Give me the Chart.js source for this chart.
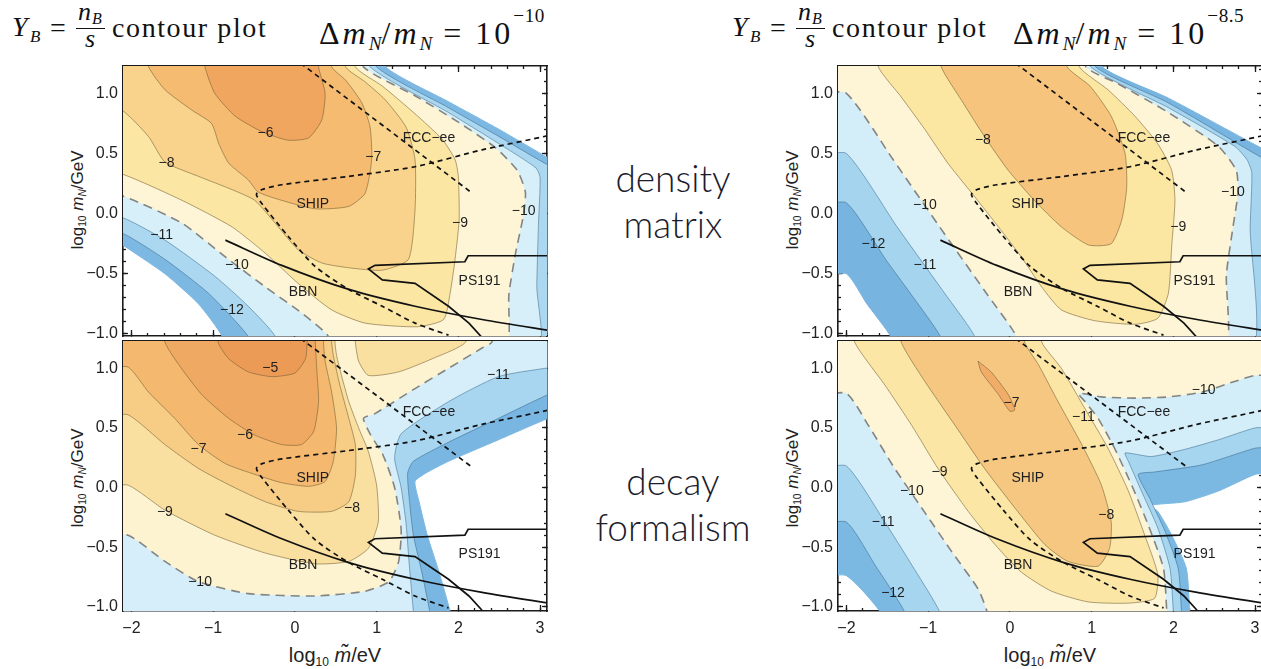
<!DOCTYPE html>
<html>
<head>
<meta charset="utf-8">
<script src="https://cdn.jsdelivr.net/npm/chart.js@4.4.1/dist/chart.umd.min.js"></script>
<style>
  html, body { margin: 0; padding: 0; background: #fff; }
  body { width: 1261px; height: 669px; overflow: hidden; position: relative; }
  canvas { position: absolute; }
  .t { position: absolute; white-space: nowrap; line-height: 1; color: #111; }
  .serif { font-family: 'Liberation Serif', 'Times New Roman', serif; }
  .eq { font-size: 32px; letter-spacing: 3px; }
  .sans { font-family: 'Liberation Sans', Arial, sans-serif; color: #222; }
  .side { font-family: Lato, 'Open Sans', sans-serif; font-weight: 300; font-size: 37px; line-height: 46px; color: #1c1c2e; text-align: center; width: 220px; }
  .bar { position: absolute; height: 1.4px; background: #111; }
  .rot { transform: translate(-50%, -50%) rotate(-90deg); }
  .ctr { transform: translateX(-50%); }
  sub { font-size: 0.6em; vertical-align: -0.3em; line-height: 0; letter-spacing: 0; }
  sup { font-size: 0.6em; vertical-align: 1.15em; line-height: 0; letter-spacing: 0.5px; }
</style>
</head>
<body>

<!-- left title -->
<div class="t serif" style="left:12px;top:13px;font-size:28px"><i>Y</i></div>
<div class="t serif" style="left:30px;top:28px;font-size:17px"><i>B</i></div>
<div class="t serif" style="left:50px;top:14px;font-size:28px">=</div>
<div class="t serif" style="left:78px;top:-1px;font-size:26px"><i>n</i></div>
<div class="t serif" style="left:92px;top:11px;font-size:16px"><i>B</i></div>
<div class="bar" style="left:76px;top:28px;width:29px"></div>
<div class="t serif" style="left:85px;top:26px;font-size:26px"><i>s</i></div>
<div class="t serif" style="left:112px;top:14px;font-size:28px;letter-spacing:1.6px">contour plot</div>
<div class="t serif eq" style="left:319px;top:16px">Δ<i>m</i><sub><i>N</i></sub>/<i>m</i><sub><i>N</i></sub> = 10<sup>−10</sup></div>

<!-- right title -->
<div class="t serif" style="left:732px;top:13px;font-size:28px"><i>Y</i></div>
<div class="t serif" style="left:750px;top:28px;font-size:17px"><i>B</i></div>
<div class="t serif" style="left:770px;top:14px;font-size:28px">=</div>
<div class="t serif" style="left:798px;top:-1px;font-size:26px"><i>n</i></div>
<div class="t serif" style="left:812px;top:11px;font-size:16px"><i>B</i></div>
<div class="bar" style="left:796px;top:28px;width:29px"></div>
<div class="t serif" style="left:805px;top:26px;font-size:26px"><i>s</i></div>
<div class="t serif" style="left:832px;top:14px;font-size:28px;letter-spacing:1.6px">contour plot</div>
<div class="t serif eq" style="left:1013px;top:16px">Δ<i>m</i><sub><i>N</i></sub>/<i>m</i><sub><i>N</i></sub> = 10<sup>−8.5</sup></div>

<!-- middle captions -->
<div class="t side" style="left:563px;top:155px">density<br>matrix</div>
<div class="t side" style="left:563px;top:458px">decay<br>formalism</div>

<!-- axis titles -->
<div class="t sans rot" style="left:77px;top:200px;font-size:17px">log<sub>10</sub> <i>m</i><sub><i>N</i></sub>/GeV</div>
<div class="t sans rot" style="left:77px;top:478px;font-size:17px">log<sub>10</sub> <i>m</i><sub><i>N</i></sub>/GeV</div>
<div class="t sans rot" style="left:792px;top:200px;font-size:17px">log<sub>10</sub> <i>m</i><sub><i>N</i></sub>/GeV</div>
<div class="t sans rot" style="left:792px;top:478px;font-size:17px">log<sub>10</sub> <i>m</i><sub><i>N</i></sub>/GeV</div>
<div class="t sans ctr" style="left:335px;top:645px;font-size:20px">log<sub>10</sub> <i>m&#771;</i>/eV</div>
<div class="t sans ctr" style="left:1050px;top:645px;font-size:20px">log<sub>10</sub> <i>m&#771;</i>/eV</div>

<canvas id="c1" width="486" height="280" style="left:63px;top:64px"></canvas>
<canvas id="c2" width="486" height="302" style="left:63px;top:339px"></canvas>
<canvas id="c3" width="486" height="280" style="left:778px;top:64px"></canvas>
<canvas id="c4" width="486" height="302" style="left:778px;top:339px"></canvas>

<script>
// axis ranges (log10 m~/eV, log10 mN/GeV)
const xLo = -2.103, xHi = 3.085;
const yTop = [-1.017, 1.227];
const yBot = [-1.036, 1.229];

// experimental bounds, same in every panel
const fcc = [[0.07,1.25],[2.17,0.17]];
const ship = [[3.2,0.67],[3.11,0.65],[2.29,0.53],[1.47,0.39],[0.66,0.31],[-0.16,0.24],[-0.40,0.20],[-0.47,0.16],[-0.40,0.08],[-0.08,-0.19],[0.25,-0.44],[0.66,-0.63],[1.07,-0.77],[1.47,-0.91],[1.88,-1.01]];
const bbn = [[-0.85,-0.22],[-0.16,-0.43],[0.66,-0.63],[1.47,-0.77],[2.29,-0.88],[3.2,-0.98]];
const ps191 = [[3.2,-0.35],[2.12,-0.35],[2.08,-0.40],[0.98,-0.43],[0.90,-0.46],[1.07,-0.55],[1.47,-0.58],[1.88,-0.77],[2.13,-0.91],[2.29,-1.03]];
const names = [['SHIP',0.22,0.08],['FCC\u2212ee',1.64,0.63],['BBN',0.10,-0.65],['PS191',2.26,-0.56]];

// top left: density matrix, dm/m = 1e-10  (region where log10 Y_B > level)
const tl13 = [[-2.4,1.5],[-2.4,-0.26],[-2.12,-0.26],[-2.02,-0.30],[-1.59,-0.50],[-1.18,-0.75],[-0.89,-1.02],[-0.85,-1.2],[3.3,-1.2],[3.3,0.40],[3.11,0.46],[2.5,0.70],[1.88,0.93],[1.11,1.22],[1.03,1.5]];
const tl12 = [[-2.4,1.5],[-2.4,-0.16],[-2.12,-0.16],[-1.59,-0.38],[-1.06,-0.66],[-0.57,-1.02],[-0.5,-1.2],[3.3,-1.2],[3.3,0.36],[3.11,0.40],[2.5,0.64],[1.88,0.88],[1.0,1.22],[0.93,1.5]];
const tl11 = [[-2.4,1.5],[-2.4,-0.03],[-2.12,-0.03],[-1.59,-0.22],[-0.98,-0.52],[-0.57,-0.77],[-0.24,-1.02],[-0.2,-1.2],[2.96,-1.2],[2.96,-0.6],[2.98,-0.1],[3.0,0.30],[2.95,0.38],[2.5,0.58],[1.88,0.84],[0.92,1.22],[0.85,1.5]];
const tl10 = [[-2.4,1.5],[-2.4,0.15],[-2.12,0.15],[-1.38,-0.08],[-0.85,-0.36],[-0.36,-0.61],[0.09,-0.83],[0.41,-1.02],[0.45,-1.2],[2.55,-1.2],[2.62,-0.66],[2.70,-0.33],[2.80,0.0],[2.82,0.18],[2.72,0.36],[2.45,0.55],[2.0,0.76],[1.47,0.98],[0.84,1.22],[0.78,1.5]];
const tl9 = [[-2.4,1.5],[-2.4,0.33],[-2.12,0.33],[-1.38,0.11],[-0.77,-0.11],[-0.36,-0.33],[0.04,-0.58],[0.45,-0.80],[0.86,-0.91],[1.50,-0.94],[1.82,-0.88],[1.90,-0.66],[1.96,-0.38],[2.01,-0.05],[2.0,0.31],[1.96,0.45],[1.80,0.62],[1.47,0.83],[1.07,1.06],[0.74,1.22],[0.68,1.5]];
const tl8 = [[-2.4,1.5],[-2.4,0.86],[-2.12,0.86],[-1.79,0.64],[-1.59,0.43],[-1.18,0.31],[-0.77,0.20],[-0.49,0.11],[-0.24,-0.08],[0.04,-0.30],[0.33,-0.41],[0.66,-0.45],[1.07,-0.47],[1.39,-0.38],[1.47,0.03],[1.47,0.45],[1.36,0.72],[1.10,0.95],[0.85,1.10],[0.62,1.22],[0.57,1.5]];
const tl7 = [[-1.9,1.5],[-1.79,1.22],[-1.59,1.03],[-1.26,0.86],[-1.02,0.75],[-0.93,0.58],[-0.81,0.42],[-0.57,0.28],[-0.45,0.18],[-0.16,0.11],[0.25,0.04],[0.66,0.06],[0.86,0.17],[0.94,0.45],[0.92,0.72],[0.82,0.92],[0.62,1.11],[0.45,1.22],[0.40,1.5]];
const tl6 = [[-1.15,1.5],[-1.10,1.22],[-0.98,1.0],[-0.73,0.81],[-0.40,0.68],[-0.08,0.61],[0.17,0.63],[0.33,0.78],[0.37,1.0],[0.29,1.22],[0.27,1.5]];
const tlLab = [['\u22126',-0.36,0.67],['\u22127',0.96,0.47],['\u22128',-1.57,0.42],['\u22129',2.02,-0.08],['\u221210',2.80,0.02],['\u221210',-0.71,-0.43],['\u221211',-1.63,-0.18],['\u221212',-0.77,-0.80]];

// bottom left: decay formalism, dm/m = 1e-10
const bl13 = [[-2.4,1.5],[-2.4,-1.2],[1.95,-1.2],[1.90,-1.04],[1.76,-0.70],[1.62,-0.40],[1.52,-0.12],[1.47,0.05],[1.60,0.12],[1.88,0.22],[2.49,0.40],[3.10,0.58],[3.3,0.62],[3.3,1.5]];
const bl12 = [[-2.4,1.5],[-2.4,-1.2],[1.68,-1.2],[1.65,-1.04],[1.55,-0.70],[1.45,-0.40],[1.40,-0.10],[1.38,0.12],[1.45,0.22],[1.88,0.38],[2.49,0.58],[3.10,0.78],[3.3,0.82],[3.3,1.5]];
const bl11 = [[-2.4,1.5],[-2.4,-1.2],[1.47,-1.2],[1.45,-1.04],[1.40,-0.65],[1.36,-0.30],[1.30,0.0],[1.22,0.25],[1.30,0.45],[1.88,0.72],[2.49,0.93],[3.06,1.0],[3.3,1.02],[3.3,1.5]];
const bl10 = [[-2.4,1.5],[-2.4,-0.40],[-2.04,-0.40],[-1.59,-0.62],[-1.18,-0.79],[-0.57,-0.89],[0.25,-0.91],[0.86,-0.87],[1.15,-0.79],[1.27,-0.62],[1.30,-0.35],[1.22,0.0],[1.08,0.27],[0.92,0.45],[0.84,0.58],[0.98,0.62],[1.47,0.83],[1.88,1.0],[2.29,1.17],[2.41,1.22],[2.45,1.5]];
const bl9 = [[-2.4,1.5],[-2.4,0.02],[-2.04,0.02],[-1.59,-0.19],[-0.98,-0.40],[-0.36,-0.55],[0.25,-0.64],[0.66,-0.62],[0.90,-0.51],[1.02,-0.29],[1.0,0.02],[0.90,0.30],[0.78,0.50],[0.66,0.72],[0.57,0.94],[0.51,1.11],[0.49,1.22],[0.48,1.5]];
const bl9b = [[0.72,1.5],[0.74,1.22],[0.78,1.06],[0.90,0.94],[1.27,0.97],[1.68,1.08],[2.09,1.22],[2.12,1.5]];
const bl8 = [[-2.4,1.5],[-2.4,0.61],[-2.04,0.61],[-1.59,0.36],[-1.18,0.16],[-0.77,0.01],[-0.36,-0.12],[0.04,-0.20],[0.45,-0.20],[0.66,-0.12],[0.74,0.10],[0.74,0.36],[0.66,0.58],[0.55,0.86],[0.47,1.11],[0.45,1.22],[0.44,1.5]];
const bl7 = [[-2.4,1.5],[-2.4,1.02],[-2.04,1.01],[-1.79,0.80],[-1.47,0.58],[-1.18,0.36],[-0.85,0.20],[-0.49,0.11],[-0.16,0.04],[0.17,0.01],[0.37,0.05],[0.47,0.22],[0.51,0.50],[0.45,0.80],[0.37,1.06],[0.35,1.22],[0.34,1.5]];
const bl6 = [[-1.62,1.5],[-1.59,1.22],[-1.42,1.03],[-1.14,0.78],[-0.81,0.58],[-0.49,0.44],[-0.16,0.36],[0.08,0.36],[0.23,0.47],[0.29,0.72],[0.27,0.97],[0.25,1.22],[0.24,1.5]];
const bl5 = [[-0.96,1.5],[-0.94,1.22],[-0.81,1.08],[-0.57,0.97],[-0.28,0.93],[0.0,0.96],[0.13,1.08],[0.15,1.22],[0.16,1.5]];
const blLab = [['\u22125',-0.30,1.0],['\u22126',-0.61,0.44],['\u22127',-1.18,0.32],['\u22128',0.70,-0.17],['\u22129',-1.59,-0.21],['\u221210',-1.16,-0.79],['\u221211',2.49,0.94]];

// top right: density matrix, dm/m = 10^-8.5
const tr13 = [[-2.4,1.5],[-2.4,-0.50],[-2.0,-0.50],[-1.75,-0.75],[-1.46,-1.02],[-1.4,-1.2],[3.3,-1.2],[3.3,0.48],[3.12,0.53],[1.94,0.96],[1.13,1.22],[1.08,1.5]];
const tr12 = [[-2.4,1.5],[-2.4,0.09],[-2.0,0.09],[-1.51,-0.39],[-1.22,-0.66],[-0.85,-1.02],[-0.8,-1.2],[3.3,-1.2],[3.3,0.40],[3.12,0.45],[1.94,0.92],[1.05,1.22],[1.0,1.5]];
const tr11 = [[-2.4,1.5],[-2.4,0.5],[-2.0,0.5],[-1.38,-0.11],[-0.80,-0.66],[-0.43,-1.02],[-0.4,-1.2],[2.92,-1.2],[2.94,-0.11],[2.96,0.34],[2.90,0.45],[2.75,0.56],[1.94,0.88],[0.99,1.22],[0.94,1.5]];
const tr10 = [[-2.4,1.5],[-2.4,1.02],[-2.0,1.0],[-1.43,0.45],[-0.86,-0.11],[-0.29,-0.66],[0.08,-1.02],[0.1,-1.2],[2.6,-1.2],[2.65,-0.50],[2.73,-0.11],[2.79,0.17],[2.77,0.36],[2.55,0.56],[1.94,0.84],[1.32,1.08],[0.93,1.22],[0.88,1.5]];
const tr9 = [[-1.65,1.5],[-1.61,1.22],[-1.33,0.97],[-1.04,0.70],[-0.76,0.42],[-0.43,0.14],[-0.14,-0.11],[0.14,-0.36],[0.39,-0.61],[0.63,-0.80],[1.04,-0.89],[1.53,-0.92],[1.81,-0.87],[1.94,-0.66],[1.98,-0.27],[2.02,0.11],[1.98,0.36],[1.81,0.58],[1.53,0.81],[1.20,1.03],[0.85,1.22],[0.80,1.5]];
const tr8 = [[-0.88,1.5],[-0.84,1.22],[-0.59,0.94],[-0.31,0.64],[-0.02,0.36],[0.30,0.11],[0.63,-0.11],[0.96,-0.26],[1.24,-0.25],[1.37,-0.05],[1.43,0.22],[1.41,0.50],[1.24,0.81],[0.98,1.06],[0.70,1.22],[0.62,1.5]];
const trLab = [['\u22128',-0.33,0.61],['\u22129',2.06,-0.11],['\u221210',2.73,0.18],['\u221210',-1.04,0.07],['\u221211',-1.04,-0.43],['\u221212',-1.67,-0.25]];

// bottom right: decay formalism, dm/m = 10^-8.5
const br13 = [[-2.4,1.5],[-2.4,-0.72],[-2.0,-0.74],[-1.59,-1.04],[-1.55,-1.2],[2.22,-1.2],[2.20,-1.04],[2.16,-0.68],[1.98,-0.40],[1.81,-0.20],[1.71,-0.15],[2.14,-0.12],[2.55,-0.03],[3.0,0.11],[3.3,0.15],[3.3,1.5]];
const br12 = [[-2.4,1.5],[-2.4,-0.29],[-2.0,-0.29],[-1.65,-0.65],[-1.29,-1.04],[-1.25,-1.2],[2.12,-1.2],[2.10,-1.04],[2.06,-0.68],[1.90,-0.37],[1.71,-0.09],[1.57,0.11],[1.77,0.13],[2.35,0.19],[3.0,0.33],[3.3,0.36],[3.3,1.5]];
const br11 = [[-2.4,1.5],[-2.4,0.18],[-2.0,0.18],[-1.53,-0.29],[-1.20,-0.65],[-0.86,-1.04],[-0.83,-1.2],[2.02,-1.2],[2.0,-1.04],[1.96,-0.68],[1.81,-0.34],[1.61,-0.03],[1.45,0.22],[1.41,0.29],[1.73,0.26],[2.14,0.32],[2.55,0.40],[3.0,0.50],[3.3,0.52],[3.3,1.5]];
const br10 = [[-2.4,1.5],[-2.4,0.79],[-2.0,0.79],[-1.73,0.52],[-1.41,0.16],[-1.08,-0.17],[-0.71,-0.54],[-0.39,-0.85],[-0.28,-1.04],[-0.25,-1.2],[1.94,-1.2],[1.92,-1.04],[1.88,-0.68],[1.69,-0.31],[1.49,0.02],[1.28,0.33],[1.08,0.58],[0.92,0.72],[0.84,0.79],[1.12,0.76],[1.53,0.75],[1.94,0.76],[2.35,0.80],[2.75,0.89],[3.0,0.94],[3.3,0.96],[3.3,1.5]];
const br9 = [[-1.95,1.5],[-1.90,1.22],[-1.53,0.86],[-1.20,0.52],[-0.88,0.16],[-0.51,-0.20],[-0.18,-0.48],[0.14,-0.71],[0.51,-0.87],[0.96,-0.96],[1.45,-0.97],[1.77,-0.93],[1.81,-0.73],[1.65,-0.40],[1.45,-0.03],[1.20,0.33],[0.92,0.66],[0.63,1.0],[0.39,1.22],[0.36,1.5]];
const br8 = [[-1.36,1.5],[-1.33,1.22],[-1.04,0.89],[-0.67,0.52],[-0.31,0.16],[0.06,-0.17],[0.43,-0.48],[0.71,-0.62],[1.08,-0.66],[1.22,-0.51],[1.24,-0.29],[1.12,0.02],[0.88,0.36],[0.59,0.72],[0.35,1.03],[0.18,1.22],[0.15,1.5]];
const br7 = [[-0.39,1.06],[-0.23,0.97],[-0.02,0.78],[0.06,0.65],[0.0,0.64],[-0.14,0.78],[-0.35,0.97],[-0.39,1.06]];
const brLab = [['\u22127',0.02,0.71],['\u22128',1.18,-0.23],['\u22129',-0.86,0.13],['\u221210',-1.20,-0.03],['\u221210',2.37,0.82],['\u221211',-1.55,-0.29],['\u221211',0.90,0.59],['\u221212',-1.43,-0.89]];

// fill colours per level, one palette per panel
const tlCol = {'-13':'#7db8e2','-12':'#abd8f0','-11':'#d6eff9','-10':'#fdf5d6','-9':'#fbe6a3','-8':'#f9d38c','-7':'#f5bb70','-6':'#f0a65e'};
const blCol = {'-13':'#79b6e1','-12':'#a8d6f0','-11':'#d5eef9','-10':'#fdf3d0','-9':'#fae0a0','-8':'#f7cc85','-7':'#f4b96f','-6':'#f0a963','-5':'#ec9b56'};
const trCol = {'-13':'#78b4e0','-12':'#a5d4ef','-11':'#d4eef9','-10':'#fdf5d5','-9':'#fbe6a2','-8':'#f6c47c'};
const brCol = {'-13':'#7bb8e2','-12':'#a6d5ef','-11':'#d3eef9','-10':'#fdf5d6','-9':'#fbe6a6','-8':'#f6c781','-7':'#f1ad68'};

const panels = [
  {id:'c1', yr:yTop, showX:false, col:tlCol, lab:tlLab, layers:[[tl13,-13],[tl12,-12],[tl11,-11],[tl10,-10],[tl9,-9],[tl8,-8],[tl7,-7],[tl6,-6]]},
  {id:'c2', yr:yBot, showX:true, col:blCol, lab:blLab, layers:[[bl13,-13],[bl12,-12],[bl11,-11],[bl10,-10],[bl9,-9],[bl9b,-9],[bl8,-8],[bl7,-7],[bl6,-6],[bl5,-5]]},
  {id:'c3', yr:yTop, showX:false, col:trCol, lab:trLab, layers:[[tr13,-13],[tr12,-12],[tr11,-11],[tr10,-10],[tr9,-9],[tr8,-8]]},
  {id:'c4', yr:yBot, showX:true, col:brCol, lab:brLab, layers:[[br13,-13],[br12,-12],[br11,-11],[br10,-10],[br9,-9],[br8,-8],[br7,-7]]}
];

const toXY = pts => pts.map(p => ({x: p[0], y: p[1]}));

function contourSet(pts, color, level, order) {
  const obs = level === -10;
  return {
    data: toXY(pts),
    fill: 'shape',
    backgroundColor: color,
    borderColor: level === -13 ? color : obs ? 'rgba(120,120,120,0.9)' : level < -10 ? 'rgba(50,95,130,0.5)' : 'rgba(110,90,50,0.55)',
    borderWidth: obs ? 1.6 : 1,
    borderDash: obs ? [9, 6] : [],
    pointRadius: 0,
    tension: 0.2,
    capBezierPoints: false,
    order
  };
}

function boundLine(pts, dashed, tension) {
  return {
    data: toXY(pts), fill: false, borderColor: '#111', borderWidth: 1.7,
    borderDash: dashed ? [5, 4] : [], pointRadius: 0, tension, order: 0
  };
}

function textPlugin(items) {
  return {
    id: 'contourText',
    afterDatasetsDraw(chart) {
      const {ctx, chartArea: a} = chart;
      const sx = chart.scales.x, sy = chart.scales.y;
      ctx.save();
      ctx.beginPath(); ctx.rect(a.left, a.top, a.width, a.height); ctx.clip();
      ctx.textAlign = 'center'; ctx.textBaseline = 'middle'; ctx.fillStyle = '#1e1e1e';
      ctx.font = '14px "Liberation Sans", Arial, sans-serif';
      items.forEach(([t, vx, vy]) => ctx.fillText(t, sx.getPixelForValue(vx), sy.getPixelForValue(vy)));
      ctx.restore();
    }
  };
}

const fmtX = v => (v < 0 ? '\u2212' : '') + Math.abs(Math.round(v));
const fmtY = v => (v < -1e-9 ? '\u2212' : '') + Math.abs(v).toFixed(1);
const tickFont = {family: "'Liberation Sans', Arial, sans-serif", size: 16};

function axis(dir, pos, range, step, tl, weight, size, labels, border, fmt, pad) {
  return {
    type: 'linear', axis: dir, position: pos, weight, z: 1,
    min: range[0], max: range[1],
    grid: {drawOnChartArea: false, drawTicks: true, tickLength: tl, tickColor: '#1a1a1a', tickWidth: 1.3},
    border: {display: border, color: '#1a1a1a', width: 1.6},
    ticks: {stepSize: step, includeBounds: false, autoSkip: false, maxRotation: 0, minRotation: 0,
            display: labels, padding: pad || 0, font: tickFont, color: '#222', callback: fmt || (() => '')},
    afterFit(s) {
      if (dir === 'x') s.height = size; else s.width = size;
      s.paddingTop = 0; s.paddingBottom = 0; s.paddingLeft = 0; s.paddingRight = 0;
    }
  };
}

function makeScales(yr, showX) {
  const xr = [xLo, xHi];
  return {
    x:   axis('x', 'bottom', xr, 1, -6, 1, showX ? 30 : 0, showX, true, fmtX, 14),
    xm:  axis('x', 'bottom', xr, 0.2, -3, 0, 0, false, false),
    xt:  axis('x', 'top', xr, 1, -6, 1, 0, false, true),
    xtm: axis('x', 'top', xr, 0.2, -3, 0, 0, false, false),
    y:   axis('y', 'left', yr, 0.5, -5, 1, 60, true, true, fmtY, 10),
    ym:  axis('y', 'left', yr, 0.1, -3, 0, 0, false, false),
    yr:  axis('y', 'right', yr, 0.5, -5, 1, 0, false, true),
    yrm: axis('y', 'right', yr, 0.1, -3, 0, 0, false, false)
  };
}

panels.forEach(p => {
  const datasets = p.layers.map((l, i) => contourSet(l[0], p.col[String(l[1])], l[1], 50 - i));
  datasets.push(boundLine(fcc, true, 0), boundLine(ship, true, 0.25), boundLine(bbn, false, 0.3), boundLine(ps191, false, 0));
  new Chart(document.getElementById(p.id), {
    type: 'line',
    data: {datasets},
    options: {
      responsive: false,
      animation: false,
      events: [],
      layout: {padding: {top: 2, right: 2, bottom: p.showX ? 0 : 8, left: 0}},
      plugins: {legend: {display: false}, tooltip: {enabled: false}},
      scales: makeScales(p.yr, p.showX)
    },
    plugins: [textPlugin(p.lab.concat(names))]
  });
});
</script>
</body>
</html>
